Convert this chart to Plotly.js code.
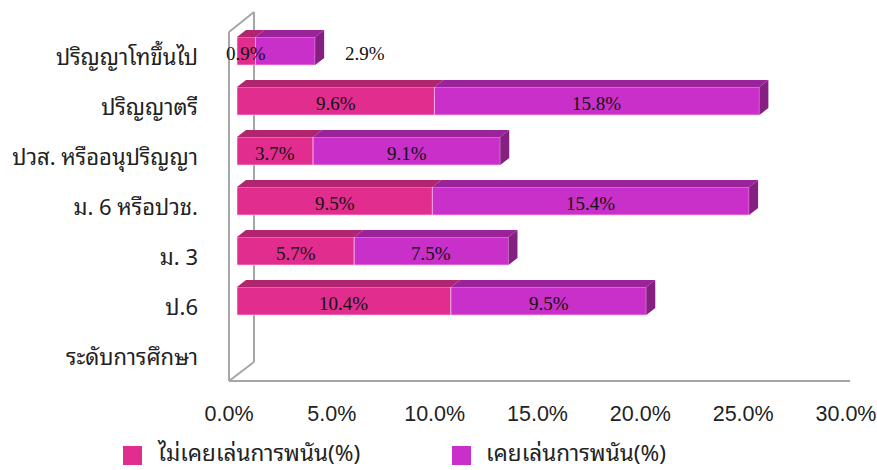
<!DOCTYPE html>
<html><head><meta charset="utf-8">
<script src="https://cdn.plot.ly/plotly-3.0.1.min.js"></script>
<style>html,body{margin:0;padding:0;background:#fff}</style>
</head><body>
<div id="chart" style="width:877px;height:470px"></div>
<script>
// ---- data ----
const categories = ['ปริญญาโทขึ้นไป', 'ปริญญาตรี', 'ปวส. หรืออนุปริญญา', 'ม. 6 หรือปวช.', 'ม. 3', 'ป.6', 'ระดับการศึกษา'];
const neverGambled = [0.9, 9.6, 3.7, 9.5, 5.7, 10.4, null];
const gambled = [2.9, 15.8, 9.1, 15.4, 7.5, 9.5, null];
const seriesNames = ['ไม่เคยเล่นการพนัน(%)', 'เคยเล่นการพนัน(%)'];
const xTickVals = [0, 5, 10, 15, 20, 25, 30];
const xTickText = ['0.0%', '5.0%', '10.0%', '15.0%', '20.0%', '25.0%', '30.0%'];

// ---- layout geometry ----
const W = 877, H = 470;
const mL = 237, mR = 23, mT = 26, mB = 94;
const plotW = W - mL - mR, plotH = H - mT - mB;
const xMax = 30;
const nCat = categories.length;
const xPerPx = xMax / plotW;
const yPerPx = nCat / plotH;
const barW = 0.56;
const dx = 9 * xPerPx, dy = 7 * yPerPx;
const catIdx = categories.map((c, i) => i);

const colFront = ['#E12D8D', '#C92FC9'];
const colTop = ['#B02470', '#9A2399'];
const colSide = '#851F82';
const thaiFont = '"Noto Sans Thai Looped", Garuda, Loma, Norasi, "TH Sarabun New", Tahoma, "Noto Sans Thai", "Noto Sans", "DejaVu Sans", sans-serif';
const serifFont = '"Liberation Serif", "Times New Roman", serif';

const traces = [neverGambled, gambled].map((vals, s) => ({
  type: 'bar', orientation: 'h', name: seriesNames[s],
  x: vals, y: catIdx, width: barW,
  marker: {color: colFront[s], line: {color: 'rgba(255,190,240,0.7)', width: 1}},
  hoverinfo: 'x+name', showlegend: false
}));
traces[1].base = neverGambled.map(v => v == null ? null : v);

const shapes = [];
const annotations = [];
catIdx.forEach(i => {
  const a = neverGambled[i], b = gambled[i];
  if (a == null || b == null) return;
  const yt = i - barW / 2, yb = i + barW / 2;
  const segs = [[0, a], [a, a + b]];
  segs.forEach(([x0, x1], s) => {
    shapes.push({type: 'path', xref: 'x', yref: 'y', layer: 'above',
      path: `M${x0},${yt} L${x1},${yt} L${x1 + dx},${yt - dy} L${x0 + dx},${yt - dy} Z`,
      fillcolor: colTop[s], line: {width: 0}});
  });
  const xe = a + b;
  shapes.push({type: 'path', xref: 'x', yref: 'y', layer: 'above',
    path: `M${xe},${yt} L${xe + dx},${yt - dy} L${xe + dx},${yb - dy} L${xe},${yb} Z`,
    fillcolor: colSide, line: {width: 0}});
  annotations.push({x: a / 2, y: i, xref: 'x', yref: 'y', text: a.toFixed(1) + '%',
    showarrow: false, yshift: -2, font: {family: serifFont, size: 19, color: '#111'}});
  const outside = b < 3;
  annotations.push({x: outside ? a + b : a + b / 2, y: i, xref: 'x', yref: 'y',
    text: b.toFixed(1) + '%', showarrow: false, yshift: -2,
    xanchor: outside ? 'left' : 'center', xshift: outside ? 28 : 0,
    font: {family: serifFont, size: 19, color: '#111'}});
});

// 3D wall / floor (paper coordinates from pixel geometry)
const px = p => (p - mL) / plotW;
const py = p => 1 - (p - mT) / plotH;
const wallLine = {color: '#A6A6A6', width: 2};
[[229, 32, 229, 381], [254, 12, 254, 362], [229, 32, 254, 12], [229, 381, 254, 362], [229, 381, 850, 381]]
  .forEach(([x0, y0, x1, y1]) => shapes.push({type: 'line', xref: 'paper', yref: 'paper', layer: 'below',
    x0: px(x0), y0: py(y0), x1: px(x1), y1: py(y1), line: wallLine}));

// legend (drawn as swatches + text)
const legendX = [123, 452];
seriesNames.forEach((name, s) => {
  const x0 = legendX[s];
  shapes.push({type: 'rect', xref: 'paper', yref: 'paper', x0: px(x0), x1: px(x0 + 19),
    y0: py(446), y1: py(465), fillcolor: colFront[s], line: {width: 0}});
  annotations.push({xref: 'paper', yref: 'paper', x: px(x0 + 32), y: py(451), xanchor: 'left', yanchor: 'middle',
    text: name, showarrow: false, font: {family: thaiFont, size: 22.5, color: '#222'}});
});

const layout = {
  width: W, height: H,
  margin: {l: mL, r: mR, t: mT, b: mB},
  paper_bgcolor: '#fff', plot_bgcolor: 'rgba(0,0,0,0)',
  barmode: 'overlay',
  showlegend: false,
  xaxis: {range: [0, xMax], tickvals: xTickVals, ticktext: xTickText, showgrid: false, zeroline: false,
    showline: false, ticks: '', ticklabelshift: -8, ticklabelstandoff: 22, ticklabeloverflow: 'allow',
    tickfont: {family: '"Liberation Sans Narrow", "Liberation Sans", Arial, sans-serif', size: 21.5, color: '#222'}},
  yaxis: {range: [nCat - 0.5, -0.5], tickvals: catIdx, ticktext: categories, showgrid: false, zeroline: false,
    showline: false, ticks: '', ticklabelstandoff: 38, ticklabelshift: -6,
    tickfont: {family: thaiFont, size: 22, color: '#222'}},
  shapes: shapes,
  annotations: annotations
};

Plotly.newPlot('chart', traces, layout, {displayModeBar: false, staticPlot: true});
</script>
</body></html>
